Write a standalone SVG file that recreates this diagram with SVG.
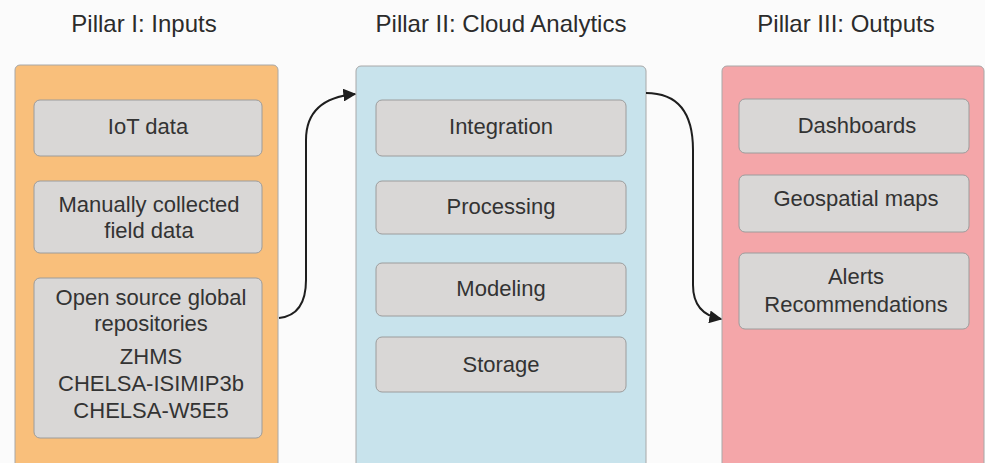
<svg xmlns="http://www.w3.org/2000/svg" width="985" height="463" viewBox="0 0 985 463">
<defs>
<style>
.title{font-family:"Liberation Sans",Arial,sans-serif;font-size:24px;fill:#2b2b2b;text-anchor:middle}
.lbl{font-family:"Liberation Sans",Arial,sans-serif;font-size:22px;fill:#333;text-anchor:middle}
.panel{stroke:#a8a8a8;stroke-width:1}
.box{fill:#d9d7d6;stroke:#9c9c9c;stroke-width:1}
.conn{fill:none;stroke:#1e1e1e;stroke-width:2}
</style>
<marker id="ah" viewBox="0 0 10 10" refX="9" refY="5" markerWidth="13" markerHeight="13" orient="auto" markerUnits="userSpaceOnUse">
<path d="M0,0 L10,5 L0,10 z" fill="#1e1e1e"/>
</marker>
</defs>
<rect width="985" height="463" fill="#fbfbfb"/>
<text class="title" x="144" y="32">Pillar I: Inputs</text>
<text class="title" x="501" y="32">Pillar II: Cloud Analytics</text>
<text class="title" x="846" y="32">Pillar III: Outputs</text>

<g id="pillar1">
<rect class="panel" x="15" y="65" width="263" height="410" rx="5" fill="#f9bf7b"/>
<g id="iot"><rect class="box" x="34" y="100" width="228" height="56" rx="6"/><text class="lbl" x="148" y="134">IoT data</text></g>
<g id="manual"><rect class="box" x="34" y="181" width="228" height="72" rx="6"/><text class="lbl" x="149" y="212">Manually collected</text><text class="lbl" x="149" y="238">field data</text></g>
<g id="opensource"><rect class="box" x="34" y="278" width="228" height="160" rx="6"/>
<text class="lbl" x="151" y="305">Open source global</text><text class="lbl" x="151" y="331">repositories</text>
<text class="lbl" x="151" y="364">ZHMS</text><text class="lbl" x="151" y="391">CHELSA-ISIMIP3b</text><text class="lbl" x="151" y="418">CHELSA-W5E5</text></g>
</g>

<g id="pillar2">
<rect class="panel" x="356" y="66" width="290" height="410" rx="5" fill="#c8e3ec"/>
<g id="integration"><rect class="box" x="376" y="100" width="250" height="56" rx="6"/><text class="lbl" x="501" y="134">Integration</text></g>
<g id="processing"><rect class="box" x="376" y="181" width="250" height="53" rx="6"/><text class="lbl" x="501" y="214">Processing</text></g>
<g id="modeling"><rect class="box" x="376" y="263" width="250" height="53" rx="6"/><text class="lbl" x="501" y="296">Modeling</text></g>
<g id="storage"><rect class="box" x="376" y="337" width="250" height="55" rx="6"/><text class="lbl" x="501" y="372">Storage</text></g>
</g>

<g id="pillar3">
<rect class="panel" x="722" y="66" width="262" height="410" rx="5" fill="#f4a6a9"/>
<g id="dashboards"><rect class="box" x="739" y="99" width="230" height="54" rx="6"/><text class="lbl" x="857" y="133">Dashboards</text></g>
<g id="geo"><rect class="box" x="739" y="175" width="230" height="57" rx="6"/><text class="lbl" x="856" y="206">Geospatial maps</text></g>
<g id="alerts"><rect class="box" x="739" y="253" width="230" height="76" rx="6"/><text class="lbl" x="856" y="284">Alerts</text><text class="lbl" x="856" y="312">Recommendations</text></g>
</g>

<g id="connectors">
<path class="conn" marker-end="url(#ah)" d="M279,318 C298,316 306,302 306,280 L306,140 C306,112 322,97 355,94"/>
<path class="conn" marker-end="url(#ah)" d="M646,93 C678,93 693,112 693,150 L693,285 C693,306 704,316 721,319"/>
</g>
</svg>
